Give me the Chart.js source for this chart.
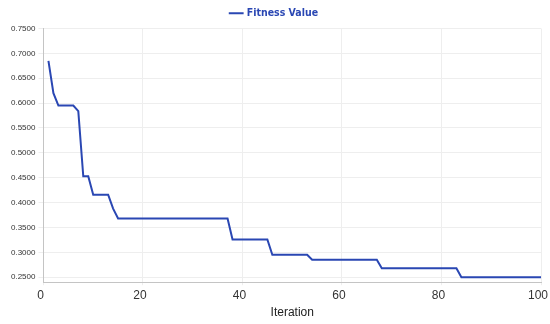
<!DOCTYPE html>
<html>
<head>
<meta charset="utf-8">
<script src="https://cdn.jsdelivr.net/npm/chart.js@4"></script>
<style>
  html, body { margin: 0; padding: 0; background: #fff; }
  #wrap { width: 550px; height: 324px; }
</style>
</head>
<body>
<div id="wrap"><canvas id="myLineChart"></canvas></div>
<script>
var iterations = [];
for (var i = 1; i <= 100; i++) iterations.push(i);

// fitness value per iteration
var fitness = [
	0.685, 0.620, 0.595, 0.595, 0.595, 0.595, 0.584, 0.453, 0.453, 0.416,
	0.416, 0.416, 0.416, 0.388, 0.368, 0.368, 0.368, 0.368, 0.368, 0.368,
	0.368, 0.368, 0.368, 0.368, 0.368, 0.368, 0.368, 0.368, 0.368, 0.368,
	0.368, 0.368, 0.368, 0.368, 0.368, 0.368, 0.368, 0.326, 0.326, 0.326,
	0.326, 0.326, 0.326, 0.326, 0.326, 0.295, 0.295, 0.295, 0.295, 0.295,
	0.295, 0.295, 0.295, 0.285, 0.285, 0.285, 0.285, 0.285, 0.285, 0.285,
	0.285, 0.285, 0.285, 0.285, 0.285, 0.285, 0.285, 0.268, 0.268, 0.268,
	0.268, 0.268, 0.268, 0.268, 0.268, 0.268, 0.268, 0.268, 0.268, 0.268,
	0.268, 0.268, 0.268, 0.250, 0.250, 0.250, 0.250, 0.250, 0.250, 0.250,
	0.250, 0.250, 0.250, 0.250, 0.250, 0.250, 0.250, 0.250, 0.250, 0.250
];

var xTicks = [0, 20, 40, 60, 80, 100];
var yTicks = [0.25, 0.30, 0.35, 0.40, 0.45, 0.50, 0.55, 0.60, 0.65, 0.70, 0.75];

var points = [];
for (var k in iterations) {
	points.push({ x: iterations[k], y: fitness[k] });
}

var lineColor = '#2a47b3';

var ctx = document.getElementById('myLineChart');

var lineGraph = new Chart(ctx, {
	type: 'line',
	data: {
		datasets: [
			{
				label: 'Fitness Value',
				data: points,
				borderColor: lineColor,
				backgroundColor: lineColor,
				borderWidth: 2,
				pointRadius: 0,
				tension: 0,
				fill: false
			}
		]
	},
	options: {
		responsive: true,
		maintainAspectRatio: false,
		animation: false,
		layout: { padding: { left: 8, right: 9, top: 0, bottom: 0 } },
		plugins: {
			legend: {
				labels: {
					usePointStyle: true,
					pointStyle: 'line',
					padding: 8,
					color: lineColor,
					font: { family: '"DejaVu Sans Condensed", "DejaVu Sans"', size: 10.5, weight: 'bold' }
				}
			},
			tooltip: { enabled: false }
		},
		scales: {
			x: {
				type: 'linear',
				min: 0,
				max: 100,
				afterBuildTicks: function(axis) {
					axis.ticks = xTicks.map(function(v) { return { value: v }; });
				},
				afterFit: function(scale) {
					scale.paddingRight = 0;
				},
				ticks: {
					color: '#333',
					font: { family: '"Liberation Sans", Arial', size: 12 },
					maxRotation: 0,
					padding: 3,
					labelOffset: -3
				},
				grid: { color: '#eeeeee', tickLength: 3 },
				border: { color: '#c4c4c4' },
				title: {
					display: true,
					text: 'Iteration',
					color: '#222',
					font: { family: '"Liberation Sans", Arial', size: 12 },
					padding: { top: 0, bottom: 4 }
				}
			},
			y: {
				min: 0.24,
				max: 0.75,
				afterBuildTicks: function(axis) {
					axis.ticks = yTicks.map(function(v) { return { value: v }; });
				},
				ticks: {
					color: '#333',
					font: { family: '"Liberation Sans", Arial', size: 8 },
					padding: 3,
					callback: function(v) { return Number(v).toFixed(4); }
				},
				grid: { color: '#eeeeee', tickLength: 5 },
				border: { color: '#c4c4c4' }
			}
		}
	}
});
</script>
</body>
</html>
